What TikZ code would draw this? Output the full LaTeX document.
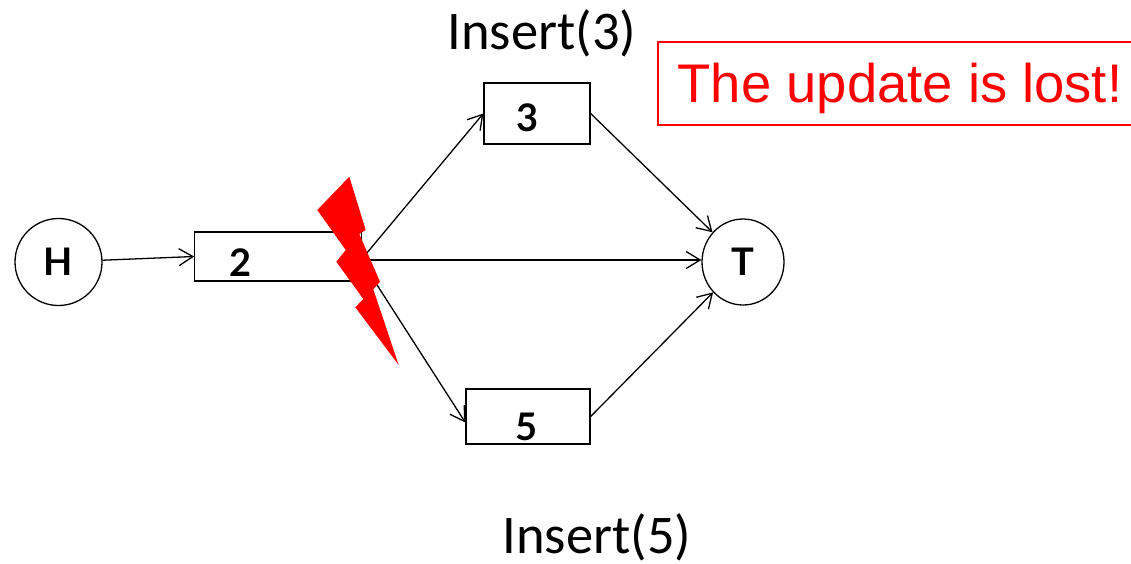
\documentclass[tikz,border=0pt]{standalone}
\usepackage{fontspec}
\setmainfont{Carlito}
\newfontfamily\notefont{Liberation Sans}
\newfontfamily\listfont{Lato}
\usepackage{xcolor}
\usepackage{tikz}
\usetikzlibrary{shapes.geometric, arrows.meta, positioning}
\tikzstyle{numfont}  = [font=\listfont\bfseries\fontsize{38}{38}\selectfont]
\tikzstyle{sentinel} = [ellipse, draw=black, line width=1.3pt, inner sep=0pt, numfont]
\tikzstyle{cell}     = [rectangle, draw=black, line width=1.3pt, inner sep=0pt, numfont]
\tikzstyle{arrow}    = [-{Straight Barb[length=14pt,width=17pt]}, line width=1.3pt, black]
\tikzstyle{op}       = [inner sep=0pt, font=\fontsize{54.5}{54.5}\selectfont]
\tikzstyle{notefnt}  = [text=red, inner sep=0pt, font=\notefont\fontsize{54.4}{54.4}\selectfont]
\tikzstyle{note}     = [rectangle, draw=red, line width=1.3pt, inner sep=0pt]

\begin{document}
\begin{tikzpicture}[x=1pt, y=-1pt]
  \useasboundingbox (0,0) rectangle (1131,563);
  \node[sentinel, minimum width=87pt, minimum height=87pt] (hd) at (58.5,262) {H};
  \node[cell, minimum width=167pt, minimum height=49pt,
        right=91.5pt of hd, yshift=5.5pt,
        label={[numfont, xshift=-38pt, yshift=-6.5pt]center:2}] (n2) {};
  \node[cell, minimum width=106pt, minimum height=61pt,
        label={[numfont, xshift=-9pt, yshift=-4.5pt]center:3}] (n3) at (537,113.5) {};
  \node[cell, minimum width=124pt, minimum height=55pt,
        label={[numfont, xshift=-1pt, yshift=-10pt]center:5}] (n5) at (528,416.5) {};
  \node[sentinel, minimum width=82pt, minimum height=86pt] (tl) at (743,262) {T};

  \node[op, above=25pt of n3, xshift=5pt] (ins3) {Insert(3)};
  \node[op, below=69pt of n5, xshift=69pt] (ins5) {Insert(5)};
  \node[note, minimum width=476pt, minimum height=83pt,
        label={[notefnt, xshift=4pt, yshift=-5pt]center:The update is lost!}] (msg) at (896,83.5) {};

  \coordinate (fork) at (361,260);
  \draw[arrow] (hd) -- (n2.west);
  \draw[arrow] (fork) -- (n3.west);
  \draw[arrow] (fork) -- ([yshift=2pt]tl.west);
  \draw[arrow] (fork) -- ([yshift=-6pt]n5.west);
  \draw[arrow] (n3.east) -- (tl);
  \draw[arrow] (n5.east) -- (tl);

  % lightning
  \fill[red] (349.3,176.7) -- (365.7,230) -- (359.3,234) -- (380,281.7) -- (373.3,289.3)
    -- (398.7,365) -- (355.3,307.3) -- (363.3,299) -- (336.3,261.7) -- (345.7,250)
    -- (317.3,210) -- cycle;
\end{tikzpicture}
\end{document}
